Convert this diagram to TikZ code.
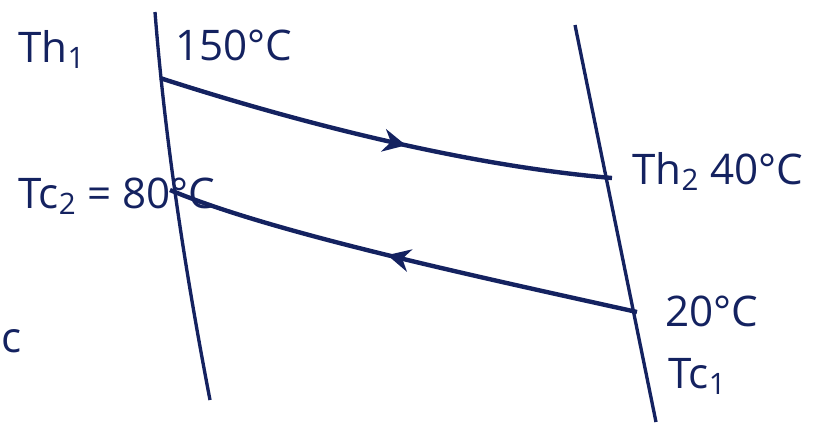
\documentclass[tikz,border=0pt]{standalone}
\usepackage{fontspec}
\setmainfont{Open Sans}
\usetikzlibrary{arrows.meta,decorations.markings}
\definecolor{ink}{RGB}{20,34,96}

\begin{document}
\begin{tikzpicture}[
    x=0.02cm, y=-0.02cm,
    font=\fontsize{24}{28}\selectfont,
    wall/.style={draw=ink, line width=1.9pt},
    stream/.style={draw=ink, line width=2.5pt},
    lbl/.style={text=ink, anchor=base west, inner sep=0pt},
    flow/.style={
      postaction={decorate},
      decoration={markings, mark=at position #1 with {\arrow{Stealth[length=13pt,width=13pt]}}}
    }
  ]
    \useasboundingbox (0,0) rectangle (839,424);

    \coordinate (lt) at (155,12);
    \coordinate (lb) at (210,400);
    \coordinate (rt) at (575,25);
    \coordinate (rb) at (656,422);
    \coordinate (h1) at (160,78);
    \coordinate (h2) at (612,178);
    \coordinate (c1) at (637,312);
    \coordinate (c2) at (170,190);

    \draw[wall] (lt) .. controls (165,140) and (185,270) .. (lb);
    \draw[wall] (rt) -- (rb);

    \draw[stream, flow=0.55] (h1) .. controls (290,120) and (460,165) .. (h2);
    \draw[stream, flow=0.53] (c1) .. controls (470,275) and (270,232) .. (c2);

    \node[lbl] (th1) at (18,62) {Th\textsubscript{1}};
    \node[lbl] (thin) at (175,60) {150°C};
    \node[lbl] (th2) at (632,184) {Th\textsubscript{2} 40°C};
    \node[lbl] (tc2) at (18,208) {Tc\textsubscript{2} = 80°C};
    \node[lbl] (tcin) at (665,326) {20°C};
    \node[lbl] (tc1) at (668,388) {Tc\textsubscript{1}};
    \node[lbl] (cut) at (1,352) {c};
  \end{tikzpicture}
\end{document}
